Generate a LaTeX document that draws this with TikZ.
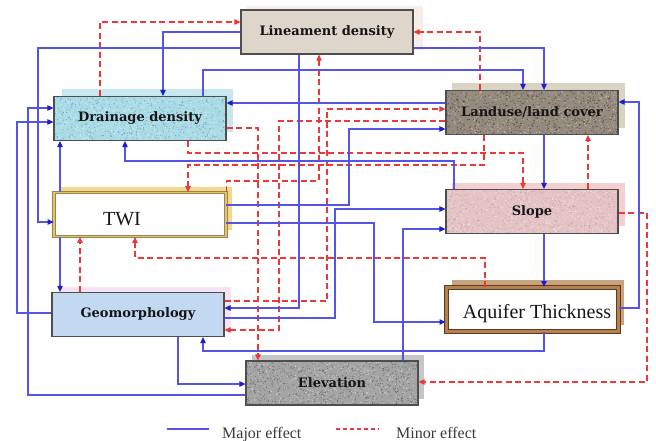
\documentclass[tikz,border=0pt]{standalone}
\usepackage{fontspec}
\setmainfont{Liberation Serif}
\newfontfamily\labfont{DejaVu Serif}
\usetikzlibrary{arrows.meta,calc}
\definecolor{majc}{RGB}{84,84,232}
\definecolor{majtip}{RGB}{30,30,205}
\definecolor{minc}{RGB}{238,56,56}
\definecolor{boxline}{HTML}{4E4E4E}
\definecolor{labtext}{HTML}{151515}
\definecolor{legtext}{HTML}{3A3A3A}
\definecolor{fLd}{HTML}{DED6CA}
\definecolor{fDd}{HTML}{A9DBE7}
\definecolor{fGeo}{HTML}{C3D9F2}
\definecolor{fEl}{HTML}{A4A4A4}
\definecolor{fLu}{HTML}{958A7E}
\definecolor{fSl}{HTML}{E5C3C5}
\definecolor{shLd}{HTML}{F7EEE9}
\definecolor{shDd}{HTML}{C8E6EE}
\definecolor{shTwi}{HTML}{F2D98A}
\definecolor{shGeo}{HTML}{F5E2F3}
\definecolor{shEl}{HTML}{C6C6C6}
\definecolor{shLu}{HTML}{D9D3C3}
\definecolor{shSl}{HTML}{F3CFCF}
\definecolor{shAq}{HTML}{C9A27F}
\definecolor{twiB}{HTML}{9C8450}
\definecolor{twiD}{HTML}{E2C470}
\definecolor{aqB}{HTML}{5C3B1E}
\definecolor{aqD}{HTML}{B4804E}
\begin{document}
\pgfmathsetseed{11}
\begin{tikzpicture}[x=1pt,y=-1pt,
  boxbase/.style={rectangle, minimum width=172pt, minimum height=44pt, inner sep=0pt,
    line width=1.2pt, draw=boxline, text=labtext,
    font=\labfont\bfseries\fontsize{13}{15}\selectfont},
  granite/.style 2 args={path picture={
    \foreach \i in {1,...,650}{\fill[#1,opacity=0.45] ($(path picture bounding box.south west)+(172*rnd,-44*rnd)$) circle (0.6pt);}
    \foreach \i in {1,...,450}{\fill[#2,opacity=0.5] ($(path picture bounding box.south west)+(172*rnd,-44*rnd)$) circle (0.55pt);}
  }},
  plainlab/.style={inner sep=0pt, text=labtext, font=\fontsize{20}{22}\selectfont},
  major/.style={draw=majc, line width=1.1pt, -{Triangle[length=6pt,width=5.5pt,color=majtip]}},
  minor/.style={draw=minc, line width=1.1pt, dash pattern=on 6pt off 3.5pt,
    -{Triangle[length=6pt,width=5.5pt,color=minc]}},
  legtxt/.style={anchor=base west, inner sep=0pt, text=legtext, font=\fontsize{16}{18}\selectfont}
]
\useasboundingbox (0,0) rectangle (656,441);
\fill[white] (0,0) rectangle (656,441);

% shadows
\fill[shLd] (247,6) rectangle (423,50);
\fill[shDd] (62,89) rectangle (233,132);
\fill[shTwi] (60,187) rectangle (232,230);
\fill[shGeo] (60,287) rectangle (231,330);
\fill[shEl] (252,355) rectangle (424,399);
\fill[shLu] (452,83) rectangle (625,128);
\fill[shSl] (452,183) rectangle (625,226);
\fill[shAq] (452,280) rectangle (624,325);

% boxes
\node[boxbase, fill=fLd] (ld) at (327,32) {Lineament density};
\node[boxbase, fill=fDd, granite={white}{fDd!70!blue!60!black}] (dd) at (140,118.5) {Drainage density};
\node[boxbase, fill=white, draw=twiB, double=twiD, double distance=1.5pt, line width=0.8pt] (twi) at (140,214.5) {};
\node[plainlab] (twitxt) at (122,219) {TWI};
\node[boxbase, fill=fGeo] (geo) at (138,314.5) {Geomorphology};
\node[boxbase, fill=fEl, granite={black!80}{white}] (elev) at (332,383) {Elevation};
\node[boxbase, fill=fLu, granite={black!85!brown}{white!85!brown}] (lu) at (532,112.5) {Landuse/land cover};
\node[boxbase, fill=fSl, granite={white}{fSl!70!black}] (sl) at (532,211.5) {Slope};
\node[boxbase, fill=white, draw=aqB, double=aqD, double distance=3pt, line width=1pt] (aq) at (532,309.5) {};
\node[plainlab] (aqtxt) at (537,314) {Aquifer Thickness};

% minor effects
\draw[minor] (dd.north -| 100,0) |- (ld.west |- 0,22);
\draw[minor] (twi.north east) |- (319,181) -- (ld.south -| 319,0);
\draw[minor] (dd.east |- 0,128) -| (elev.north -| 258,0);
\draw[minor] (dd.south -| 188,0) |- (523,153) -- (sl.north -| 523,0);
\draw[minor] (lu.south -| 484,0) |- (188,165) -- (twi.north -| 188,0);
\draw[minor] (geo.east |- 0,301) -| (327,109) -- (lu.west |- 0,109);
\draw[minor] (lu.west |- 0,121) -| (279,330) -- (geo.east |- 0,330);
\draw[minor] (geo.north -| 80,0) -- (twi.south -| 80,0);
\draw[minor] (aq.north -| 485,0) -- (485,258) -| (twi.south -| 135,0);
\draw[minor] (sl.north -| 588,0) -- (lu.south -| 588,0);
\draw[minor] (sl.east |- 0,213) -| (647,382) -- (elev.east |- 0,382);
\draw[minor] (lu.north -| 480,0) |- (ld.east |- 0,32);

% major effects
\draw[major] (ld.west |- 0,32) -| (dd.north -| 163,0);
\draw[major] (ld.west |- 0,48) -- (38,48) |- (twi.west |- 0,222);
\draw[major] (elev.west |- 0,395) -- (28,395) |- (dd.west |- 0,108);
\draw[major] (geo.west |- 0,313) -- (17,313) |- (dd.west |- 0,122);
\draw[major] (twi.north -| 60,0) -- (dd.south -| 60,0);
\draw[major] (twi.south -| 60,0) -- (geo.north -| 60,0);
\draw[major] (sl.north -| 454,0) -- (454,161) -| (dd.south -| 125,0);
\draw[major] (dd.north -| 203,0) -- (203,70) -| (lu.north -| 523,0);
\draw[major] (ld.east |- 0,48) -| (lu.north -| 544,0);
\draw[major] (ld.south -| 299,0) -- (299,308) -- (geo.east |- 0,308);
\draw[major] (lu.west |- 0,103) -- (dd.east |- 0,103);
\draw[major] (twi.east |- 0,205) -| (349,129) -- (lu.west |- 0,129);
\draw[major] (geo.east |- 0,318) -| (335,209) -- (sl.west |- 0,209);
\draw[major] (twi.east |- 0,223) -| (374,322) -- (aq.west |- 0,322);
\draw[major] (elev.north -| 403,0) |- (sl.west |- 0,229);
\draw[major] (aq.south -| 544,0) |- (203,351) -- (geo.south -| 203,0);
\draw[major] (geo.south -| 178,0) |- (elev.west |- 0,384);
\draw[major] (sl.south -| 544,0) -- (aq.north -| 544,0);
\draw[major] (lu.south -| 544,0) -- (sl.north -| 544,0);
\draw[major] (aq.east |- 0,308) -| (639,102) -- (lu.east |- 0,102);

% legend
\coordinate (lm1) at (167,429);
\coordinate (lm2) at (209,429);
\draw[majc, line width=1.1pt] (lm1) -- (lm2);
\node[legtxt] (legmaj) at (222,438) {Major effect};
\coordinate (ln1) at (336,429);
\coordinate (ln2) at (379,429);
\draw[minc, line width=1.1pt, dash pattern=on 4pt off 3pt] (ln1) -- (ln2);
\node[legtxt] (legmin) at (396,438) {Minor effect};
\end{tikzpicture}
\end{document}
